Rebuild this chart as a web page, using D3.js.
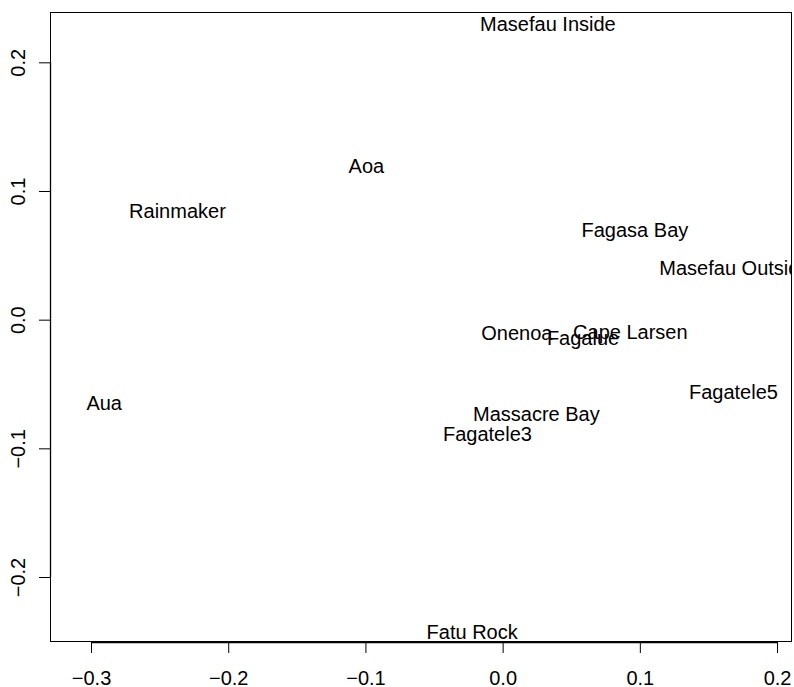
<!DOCTYPE html>
<html><head><meta charset="utf-8">
<script src="https://cdn.jsdelivr.net/npm/d3@7"></script>
<style>body{margin:0;background:#fff}svg{display:block}text{font-family:"Liberation Sans",Arial,Helvetica,sans-serif}</style>
</head><body>
<svg id="c" width="794" height="687"></svg>
<script>
const sites = ["Masefau Inside","Aoa","Rainmaker","Fagasa Bay","Masefau Outside","Onenoa","Cape Larsen","Fagalue","Fagatele5","Aua","Massacre Bay","Fagatele3","Fatu Rock"];
const xVals = [0.0330,-0.0993,-0.2370,0.0964,0.1693,0.0104,0.0931,0.0586,0.1682,-0.2904,0.0246,-0.0111,-0.0222];
const yVals = [0.2298,0.1194,0.0844,0.0697,0.0401,-0.0100,-0.0096,-0.0139,-0.0562,-0.0648,-0.0733,-0.0889,-0.2428];
const xTicks = [-0.3,-0.2,-0.1,0.0,0.1,0.2];
const yTicks = [-0.2,-0.1,0.0,0.1,0.2];

const svg = d3.select("#c");
const L=50,R=792,T=12,B=642;
const x = d3.scaleLinear().domain([-0.3299,0.2109]).range([L,R]);
const y = d3.scaleLinear().domain([-0.2505,0.2391]).range([B,T]);
const fs = 20;

svg.append("defs").append("clipPath").attr("id","clip")
  .append("rect").attr("x",L).attr("y",T).attr("width",R-L).attr("height",B-T);

// box
svg.append("rect").attr("x",L+0.5).attr("y",T+0.5).attr("width",R-L-1).attr("height",B-T-1)
  .attr("fill","none").attr("stroke","#000").attr("stroke-width",1);

// x axis
const xa = svg.append("g").attr("transform",`translate(0,${B})`)
  .call(d3.axisBottom(x).tickValues(xTicks).tickSize(11).tickFormat(d3.format(".1f")));
xa.select(".domain").attr("d",`M${x(xTicks[0])},0.5H${x(xTicks[xTicks.length-1])}`).attr("stroke-width",1.3);
xa.selectAll("text").attr("y",43).attr("dy",null).attr("font-size",fs)
  .attr("font-family","Liberation Sans, Arial, sans-serif").attr("fill","#000");

// y axis
const ya = svg.append("g").attr("transform",`translate(${L},0)`)
  .call(d3.axisLeft(y).tickValues(yTicks).tickSize(11).tickFormat(d3.format(".1f")));
ya.select(".domain").attr("d",`M0.5,${y(yTicks[0])}V${y(yTicks[yTicks.length-1])}`).attr("stroke-width",1.3);
ya.selectAll("text").remove();
ya.selectAll(".tick").append("text")
  .attr("transform","translate(-32,0) rotate(-90)")
  .attr("text-anchor","middle").attr("dy","0.35em")
  .attr("font-size",fs).attr("fill","#000")
  .attr("font-family","Liberation Sans, Arial, sans-serif")
  .text(d=>d3.format(".1f")(d));

// labels
svg.append("g").attr("clip-path","url(#clip)")
  .selectAll("text").data(sites).join("text")
  .attr("x",(d,i)=>x(xVals[i])).attr("y",(d,i)=>y(yVals[i]))
  .attr("text-anchor","middle").attr("dy","0.35em")
  .attr("font-size",fs).attr("fill","#000")
  .text(d=>d);
</script>
</body></html>
